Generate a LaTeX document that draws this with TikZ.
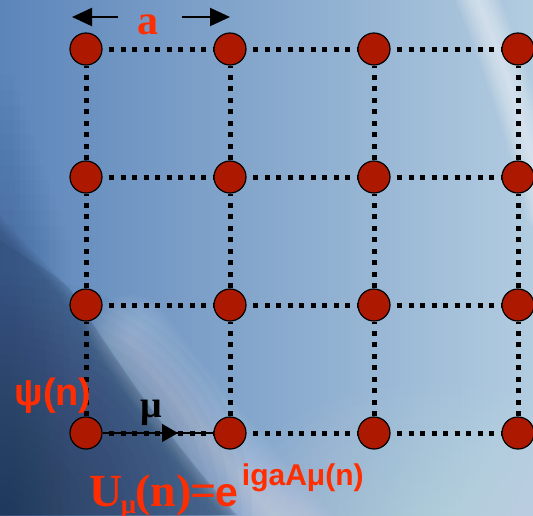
\documentclass[tikz,border=0pt]{standalone}
\usepackage{fontspec}
\setmainfont{Liberation Serif}
\setsansfont{Liberation Sans}
\usetikzlibrary{arrows.meta}
\definecolor{txtred}{RGB}{255,45,0}
\definecolor{sitered}{RGB}{172,24,0}
\definecolor{bgL}{RGB}{92,133,186}
\definecolor{bgM}{RGB}{150,184,215}
\definecolor{bgR}{RGB}{178,204,224}
\definecolor{darkblue}{RGB}{40,66,104}
\definecolor{navy}{RGB}{22,36,62}
\begin{document}
\begin{tikzpicture}[x=1pt,y=-1pt,
  sitestyle/.style={circle,draw=black,line width=1.2pt,fill=sitered,minimum size=32pt,inner sep=0pt},
  hlink/.style={line width=5pt,dash pattern=on 5pt off 6.5pt,dash phase=5pt},
  vlink/.style={line width=5pt,dash pattern=on 5pt off 6.5pt},
  arrowline/.style={line width=2pt,-{Triangle[length=20pt,width=18pt]}},
  redlabel/.style={text=txtred,inner sep=0pt}]
\useasboundingbox (0,0) rectangle (533,515);
% ---- background ----
\shade[left color=bgL, middle color=bgM, right color=bgR] (0,0) rectangle (533,515);
\foreach \k in {1,...,16}
  \fill[white,opacity=0.02] (430,560) ellipse ({\k*14pt} and {\k*11pt});
\foreach \k in {1,...,20}
  \draw[white,opacity=0.022,line width=\k*4.5pt,line cap=round] (130,340) .. controls (170,400) and (225,460) .. (300,545);
\foreach \k in {1,...,14}
  \draw[white,opacity=0.05,line width=\k*3pt,line cap=round] (470,-20) .. controls (498,50) and (522,110) .. (545,210);
\foreach \k in {1,...,12}
  \fill[darkblue,opacity=0.022] (0,{60+\k*15}) rectangle ({10+\k*5},515);
\foreach \k in {0,...,6}
  \fill[darkblue,opacity=0.07,xshift={-\k*2.5pt}] (0,215) .. controls (30,250) and (55,272) .. (74,294) .. controls (130,381) and (181,453) .. (238,515) -- (0,515) -- cycle;
\fill[darkblue,opacity=0.18] (0,240) .. controls (30,262) and (55,272) .. (72,292) .. controls (128,380) and (180,452) .. (236,515) -- (0,515) -- cycle;
\foreach \k in {1,...,24}
  \fill[navy,opacity=0.022] (0,515) ellipse ({\k*10.5pt} and {\k*10pt});
% ---- sites ----
\foreach \i/\x in {0/86,1/230,2/374,3/518}
  \foreach \j/\y in {0/433,1/305,2/177,3/49}
    \node[sitestyle] (s\i\j) at (\x,\y) {};
\foreach \i in {0,1,2,3}
  \foreach \j/\k in {0/1,1/2,2/3}
    \draw[vlink] (s\i\j) -- (s\i\k);
\foreach \j in {0,1,2,3}
  \foreach \i/\k in {0/1,1/2,2/3}
    \draw[hlink] (s\i\j) -- (s\k\j);
% ---- link arrow ----
\coordinate (mutip) at (178,433);
\draw[line width=1.3pt] (s00) -- (s10);
\draw[line width=1.3pt,-{Triangle[length=16pt,width=18pt]}] (s00) -- (mutip);
% ---- spacing arrows ----
\coordinate (aLtail) at (118,17);
\coordinate (aLtip) at (72,17);
\coordinate (aRtail) at (182,17);
\coordinate (aRtip) at (230,17);
\draw[arrowline] (aLtail) -- (aLtip);
\draw[arrowline] (aRtail) -- (aRtip);
% ---- labels ----
\node[redlabel,font=\bfseries\fontsize{42}{42}\selectfont,anchor=base] (alabel) at (148,34) {a};
\node[redlabel,font=\sffamily\bfseries\fontsize{38}{38}\selectfont,anchor=base] (psi) at (53,405) {ψ(n)};
\node[inner sep=0pt,font=\bfseries\fontsize{38}{38}\selectfont,anchor=base] (mu) at (151,417) {μ};
\node[redlabel,anchor=base west] (link) at (89,506) {\fontsize{46}{46}\selectfont\bfseries U\kern-1.5pt\raisebox{-7pt}{\fontsize{27}{27}\selectfont μ}\kern-1pt(n)\kern-1pt=\kern-1pt{\sffamily\fontsize{41}{41}\selectfont e}\kern3.5pt\raisebox{21pt}{\sffamily\fontsize{30}{30}\selectfont igaAμ(n)}};
\end{tikzpicture}
\end{document}
